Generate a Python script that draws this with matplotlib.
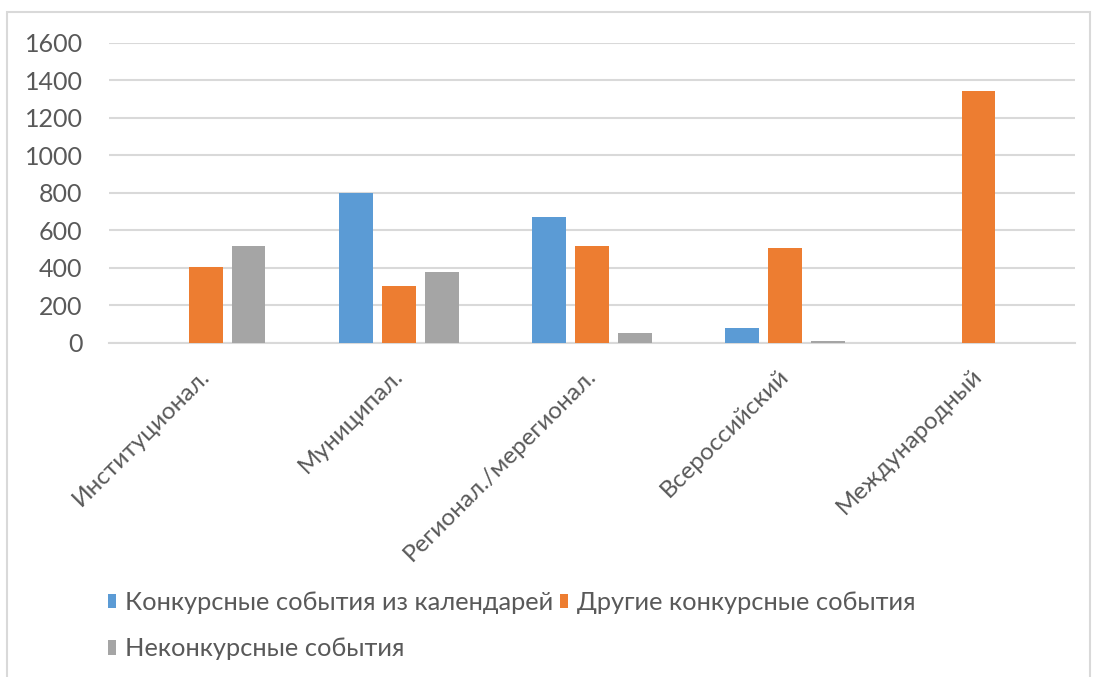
import numpy as np
import matplotlib
matplotlib.use('Agg')
from matplotlib import pyplot as plt
from matplotlib.patches import Rectangle
from matplotlib.transforms import ScaledTranslation

plt.rcParams['font.family'] = ['Lato', 'DejaVu Sans']

categories = ['Институционал.', 'Муниципал.', 'Регионал./мерегионал.',
              'Всероссийский', 'Международный']
series_names = ['Конкурсные события из календарей',
                'Другие конкурсные события',
                'Неконкурсные события']
calendar_vals = [0, 800, 674, 78, 0]
other_vals = [404, 303, 515, 508, 1342]
noncomp_vals = [518, 377, 55, 12, 0]
colors = ['#5B9BD5', '#ED7D31', '#A5A5A5']
text_color = '#595959'
grid_color = '#D9D9D9'

fig = plt.figure(figsize=(10.97, 6.77), dpi=100)
ax = fig.add_axes([0.0994, 0.4934, 0.8806, 0.4431])

x = np.arange(len(categories))
width = 0.175
step = 0.222
bars = []
for i, (vals, col) in enumerate(zip([calendar_vals, other_vals, noncomp_vals], colors)):
    b = ax.bar(x + (i - 1) * step, vals, width, color=col, label=series_names[i],
               zorder=3)
    bars.append(b)

ax.set_xlim(-0.5, len(categories) - 0.5)
ax.set_ylim(0, 1600)
ax.set_yticks(np.arange(0, 1601, 200))
ax.yaxis.grid(True, color=grid_color, linewidth=1.5, zorder=0)
ax.set_axisbelow(True)
for side in ['top', 'right', 'left']:
    ax.spines[side].set_visible(False)
ax.spines['bottom'].set_color(grid_color)
ax.spines['bottom'].set_linewidth(1.5)
ax.tick_params(axis='both', length=0, colors=text_color)
ax.tick_params(axis='y', pad=19, labelsize=18)
ax.set_xticks(x)
ax.set_xticklabels(categories, rotation=45, ha='right', rotation_mode='anchor',
                   fontsize=17.5)
ax.tick_params(axis='x', pad=16)
shift = ScaledTranslation(-0.07, 0, fig.dpi_scale_trans)
for lbl in ax.get_xticklabels():
    lbl.set_transform(lbl.get_transform() + shift)

handles = [bars[0], bars[2], bars[1]]
labels = [series_names[0], series_names[2], series_names[1]]
leg = fig.legend(handles, labels, ncol=2, loc='upper left',
                 bbox_to_anchor=(108 / 1097, 1 - 591 / 677), frameon=False,
                 borderpad=0, borderaxespad=0,
                 fontsize=18.3, handlelength=0.3, handleheight=0.5,
                 handletextpad=0.35, columnspacing=0.3, labelspacing=0.92)
for t in leg.get_texts():
    t.set_color(text_color)

fig.patches.append(Rectangle((7 / 1097, -0.01), (1090 - 7) / 1097, 1 - 12 / 677 + 0.01,
                             transform=fig.transFigure, fill=False,
                             edgecolor=grid_color, linewidth=1.5))

fig.savefig('out.png', dpi=100)
